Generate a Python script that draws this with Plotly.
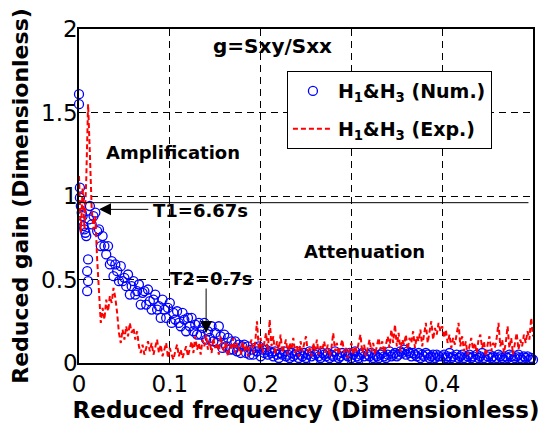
import plotly.graph_objects as go

# frequency grid of the spectra (reduced frequency)
FREQ_STEP = 0.002
NUM_START = 0.012
EXP_START = 0.0

# numerical H1&H3 gain, scatter of the first few bins near f=0
num_low_freq = [0.000, 0.000, 0.001, 0.001, 0.002, 0.003, 0.004, 0.005,
                0.006, 0.007, 0.008, 0.009, 0.009, 0.010, 0.010, 0.011]
num_low_gain = [1.61, 1.55, 1.05, 0.99, 0.94, 0.90, 0.88, 0.82,
                0.80, 0.78, 0.76, 0.55, 0.43, 0.49, 0.62, 0.86]

# numerical H1&H3 gain from f=0.012 on, one value per FREQ_STEP
num_gain = [
    0.94, 0.83, 0.88, 0.90, 0.79, 0.80, 0.70, 0.76, 0.70, 0.65,
    0.70, 0.59, 0.61, 0.52, 0.59, 0.55, 0.49, 0.58, 0.49, 0.51,
    0.46, 0.53, 0.41, 0.46, 0.49, 0.41, 0.43, 0.47, 0.35, 0.42,
    0.43, 0.35, 0.44, 0.37, 0.32, 0.38, 0.41, 0.32, 0.34, 0.27,
    0.38, 0.32, 0.27, 0.33, 0.36, 0.24, 0.30, 0.26, 0.31, 0.24,
    0.22, 0.30, 0.26, 0.19, 0.27, 0.22, 0.27, 0.19, 0.23, 0.17,
    0.24, 0.17, 0.21, 0.24, 0.14, 0.19, 0.15, 0.22, 0.13, 0.18,
    0.12, 0.22, 0.16, 0.09, 0.17, 0.10, 0.15, 0.08, 0.13, 0.08,
    0.13, 0.07, 0.11, 0.06, 0.10, 0.11, 0.06, 0.10, 0.05, 0.08,
    0.05, 0.09, 0.07, 0.10, 0.04, 0.08, 0.06, 0.08, 0.05, 0.07,
    0.06, 0.04, 0.07, 0.05, 0.03, 0.06, 0.05, 0.07, 0.04, 0.05,
    0.03, 0.06, 0.04, 0.05, 0.07, 0.03, 0.05, 0.04, 0.06, 0.03,
    0.05, 0.07, 0.04, 0.02, 0.05, 0.06, 0.04, 0.03, 0.06, 0.05,
    0.04, 0.06, 0.03, 0.05, 0.04, 0.07, 0.05, 0.03, 0.04, 0.06,
    0.02, 0.05, 0.04, 0.06, 0.03, 0.05, 0.07, 0.04, 0.03, 0.05,
    0.06, 0.04, 0.02, 0.05, 0.04, 0.06, 0.03, 0.05, 0.04, 0.03,
    0.05, 0.06, 0.04, 0.03, 0.05, 0.07, 0.04, 0.05, 0.06, 0.04,
    0.05, 0.07, 0.06, 0.08, 0.05, 0.07, 0.06, 0.04, 0.06, 0.05,
    0.04, 0.06, 0.03, 0.05, 0.04, 0.06, 0.05, 0.03, 0.04, 0.05,
    0.03, 0.05, 0.04, 0.02, 0.04, 0.05, 0.03, 0.04, 0.06, 0.03,
    0.04, 0.02, 0.05, 0.03, 0.04, 0.05, 0.03, 0.02, 0.04, 0.05,
    0.03, 0.04, 0.02, 0.05, 0.03, 0.04, 0.06, 0.03, 0.02, 0.04,
    0.05, 0.03, 0.04, 0.02, 0.03, 0.05, 0.04, 0.03, 0.02, 0.04,
    0.03, 0.05, 0.04, 0.02, 0.03, 0.04, 0.05, 0.03, 0.02, 0.04,
    0.03, 0.04, 0.02, 0.03, 0.02,
]

# experimental H1&H3 gain from f=0, one value per FREQ_STEP
exp_gain = [
    1.12, 0.78, 1.05, 0.80, 1.10, 1.55, 1.25, 0.92, 0.80, 0.88,
    0.62, 0.40, 0.24, 0.33, 0.26, 0.38, 0.31, 0.40, 0.36, 0.45,
    0.39, 0.30, 0.18, 0.12, 0.20, 0.14, 0.22, 0.16, 0.24, 0.18,
    0.21, 0.14, 0.19, 0.10, 0.06, 0.11, 0.05, 0.09, 0.13, 0.07,
    0.12, 0.05, 0.10, 0.14, 0.06, 0.11, 0.04, 0.08, 0.12, 0.03,
    0.09, 0.05, 0.02, 0.07, 0.11, 0.04, 0.08, 0.03, 0.06, 0.10,
    0.04, 0.09, 0.13, 0.06, 0.16, 0.08, 0.12, 0.05, 0.14, 0.10,
    0.17, 0.08, 0.13, 0.06, 0.15, 0.09, 0.12, 0.05, 0.16, 0.10,
    0.07, 0.13, 0.04, 0.11, 0.08, 0.15, 0.06, 0.12, 0.09, 0.05,
    0.13, 0.07, 0.11, 0.04, 0.10, 0.14, 0.06, 0.12, 0.25, 0.08,
    0.15, 0.06, 0.12, 0.18, 0.07, 0.26, 0.10, 0.16, 0.05, 0.13,
    0.08, 0.17, 0.06, 0.11, 0.14, 0.05, 0.12, 0.08, 0.15, 0.06,
    0.10, 0.04, 0.13, 0.07, 0.11, 0.16, 0.06, 0.09, 0.04, 0.12,
    0.07, 0.14, 0.05, 0.10, 0.08, 0.13, 0.06, 0.11, 0.04, 0.09,
    0.18, 0.07, 0.12, 0.05, 0.10, 0.14, 0.06, 0.09, 0.03, 0.08,
    0.12, 0.05, 0.10, 0.07, 0.13, 0.17, 0.06, 0.11, 0.04, 0.09,
    0.14, 0.07, 0.12, 0.05, 0.10, 0.15, 0.08, 0.13, 0.06, 0.11,
    0.16, 0.09, 0.20, 0.12, 0.23, 0.10, 0.18, 0.07, 0.14, 0.11,
    0.17, 0.08, 0.15, 0.12, 0.19, 0.09, 0.16, 0.13, 0.20, 0.10,
    0.17, 0.24, 0.12, 0.18, 0.25, 0.14, 0.21, 0.17, 0.24, 0.19,
    0.22, 0.15, 0.20, 0.12, 0.17, 0.09, 0.15, 0.11, 0.18, 0.24,
    0.10, 0.16, 0.07, 0.13, 0.05, 0.11, 0.15, 0.08, 0.12, 0.06,
    0.14, 0.17, 0.09, 0.13, 0.04, 0.11, 0.16, 0.07, 0.12, 0.09,
    0.15, 0.24, 0.10, 0.14, 0.06, 0.12, 0.22, 0.09, 0.15, 0.05,
    0.13, 0.18, 0.08, 0.14, 0.10, 0.17, 0.12, 0.19, 0.14, 0.27,
    0.16,
]

x_ticks = [0, 0.1, 0.2, 0.3, 0.4]
x_tick_text = ["0", "0.1", "0.2", "0.3", "0.4"]
y_ticks = [0, 0.5, 1, 1.5, 2]
y_tick_text = ["0", "0.5", "1", "1.5", "2"]

threshold = 0.96  # solid reference line between the two regions

FONT = "DejaVu Sans"

fig = go.Figure()

circle = dict(symbol="circle-open", size=9, color="#0000ff", line=dict(width=1.3))
fig.add_trace(go.Scatter(
    x0=NUM_START, dx=FREQ_STEP, y=num_gain, mode="markers",
    name="H<sub>1</sub>&amp;H<sub>3</sub> (Num.)", legendgroup="num",
    marker=circle, cliponaxis=False,
))
fig.add_trace(go.Scatter(
    x=num_low_freq, y=num_low_gain, mode="markers", showlegend=False,
    legendgroup="num", marker=circle, cliponaxis=False,
))
fig.add_trace(go.Scatter(
    x0=EXP_START, dx=FREQ_STEP, y=exp_gain, mode="lines",
    name="H<sub>1</sub>&amp;H<sub>3</sub> (Exp.)", legendgroup="exp",
    line=dict(color="#ff0000", width=2, dash="5px,3px"),
))

# horizontal reference line
fig.add_shape(type="line", xref="x", yref="y", x0=0, x1=0.495,
              y0=threshold, y1=threshold, line=dict(color="black", width=1))

txt = dict(family=FONT, size=18, color="black", weight="bold")
fig.add_annotation(x=0.213, y=1.896, text="g=Sxy/Sxx", showarrow=False,
                   font=dict(family=FONT, size=20, color="black", weight="bold"))
fig.add_annotation(x=0.104, y=1.26, text="Amplification", showarrow=False, font=txt)
fig.add_annotation(x=0.314, y=0.666, text="Attenuation", showarrow=False, font=txt)
fig.add_annotation(x=0.134, y=0.912, text="T1=6.67s", showarrow=False, font=txt)
fig.add_annotation(x=0.146, y=0.504, text="T2=0.7s", showarrow=False, font=txt)

# arrows pointing at the two periods
fig.add_annotation(x=0.022, y=0.92, ax=0.078, ay=0.92, axref="x", ayref="y",
                   text="", showarrow=True, arrowhead=2, arrowsize=2.4,
                   arrowwidth=1, arrowcolor="black")
fig.add_annotation(x=0.140, y=0.18, ax=0.140, ay=0.455, axref="x", ayref="y",
                   text="", showarrow=True, arrowhead=2, arrowsize=2.4,
                   arrowwidth=1, arrowcolor="black")

axis_common = dict(
    showline=True, linecolor="black", linewidth=1.5, mirror=True,
    ticks="inside", ticklen=5, tickcolor="black",
    showgrid=True, gridcolor="black", gridwidth=1, griddash="7px,5px",
    zeroline=False, automargin=False,
    tickfont=dict(family=FONT, size=23, color="black"),
)

fig.update_xaxes(
    range=[0, 0.5], tickvals=x_ticks, ticktext=x_tick_text,
    title=dict(text="Reduced frequency (Dimensionless)", standoff=3,
               font=dict(family=FONT, size=23, color="black", weight="bold")),
    **axis_common,
)
fig.update_yaxes(
    range=[0, 2], tickvals=y_ticks, ticktext=y_tick_text,
    ticklabelstandoff=-5,
    title=dict(text="Reduced gain (Dimensionless)", standoff=6,
               font=dict(family=FONT, size=22, color="black", weight="bold")),
    **axis_common,
)

fig.update_layout(
    width=540, height=430,
    margin=dict(l=79, r=7, t=29, b=67),
    paper_bgcolor="white", plot_bgcolor="white",
    showlegend=True,
    legend=dict(
        x=0.458, y=0.874, xanchor="left", yanchor="top",
        bgcolor="white", bordercolor="black", borderwidth=1,
        font=dict(family=FONT, size=19, color="black", weight="bold"),
        itemwidth=40, tracegroupgap=10,
    ),
)

# the page body has a default 8px margin; drop it so the figure fills the window
fig.write_html("out.html", config={"displayModeBar": False},
               post_script="document.body.style.margin='0';")
